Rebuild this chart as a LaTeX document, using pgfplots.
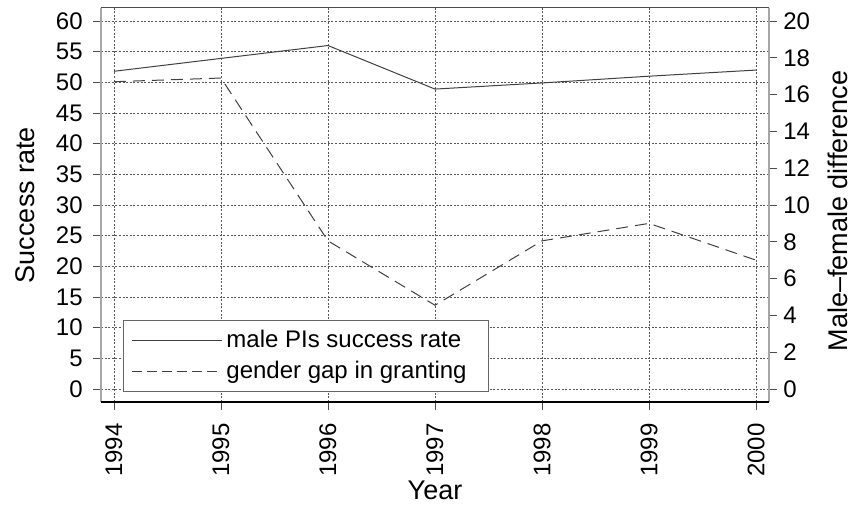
\documentclass[border=0pt]{standalone}
\usepackage{fontspec}
\setmainfont{Liberation Sans}
\usepackage{pgfplots}
\pgfplotsset{compat=1.18}

\pgfplotsset{
  common/.style={
    scale only axis, width=334pt, height=197pt,
    xmin=1993.879, xmax=2000.121,
    axis line style={draw=none},
    tick align=outside, major tick length=4pt,
    tick style={black!70, line width=0.4pt},
    /pgf/number format/assume math mode=true,
    /pgf/number format/1000 sep={},
    tick label style={font=\fontsize{12}{14}\selectfont},
  },
}

\begin{document}
\begin{tikzpicture}
\begin{axis}[common, name=ax1,
  ymin=-2.12, ymax=62.12,
  xtick={1994,1995,...,2000}, ytick={0,5,...,60},
  xtick pos=bottom, ytick pos=left,
  grid=major,
  grid style={black!65, line width=0.4pt, dash pattern=on 1pt off 0.8pt},
  xticklabel style={yshift=-6.5pt, rotate=90, anchor=east, inner sep=0pt},
  yticklabel style={anchor=east, inner sep=0pt, xshift=-5pt},
  xlabel={Year}, ylabel={Success rate},
  every axis x label/.style={at={(rel axis cs:0.5,0)}, anchor=base, yshift=-49pt,
                             font=\fontsize{13.5}{16}\selectfont},
  every axis y label/.style={at={(rel axis cs:0,0.5)}, xshift=-38pt, rotate=90, anchor=center,
                             font=\fontsize{13.5}{16}\selectfont},
  legend style={at={(0.033,0.025)}, anchor=south west, draw=black!60, line width=0.4pt,
                font=\fontsize{12}{14}\selectfont, inner xsep=4pt, inner ysep=3pt,
                row sep=1.5pt},
  legend cell align=left,
  legend image code/.code={\draw[#1] (0pt,0pt) -- (41pt,0pt); \path (0pt,0pt) -- (45pt,0pt);},
]
% male PIs success rate (left scale)
\addplot[black!75, line width=0.5pt] coordinates {
  (1994,51.8) (1995,53.9) (1996,56.0) (1997,48.9) (1998,49.9) (1999,51.0) (2000,52.0)
};
\addlegendentry{male PIs success rate}
\addlegendimage{black!75, line width=0.5pt, dash pattern=on 5pt off 2.5pt}
\addlegendentry{gender gap in granting\hspace*{5pt}}
\end{axis}

\begin{axis}[common,
  ymin=-0.707, ymax=20.707,
  xtick=\empty, ytick={0,2,...,20},
  ytick pos=right, yticklabel pos=right,
  yticklabel style={anchor=west, inner sep=0pt, xshift=3pt},
  ylabel={Male--female difference},
  every axis y label/.style={at={(rel axis cs:1,0.5)}, xshift=34.5pt, yshift=-3pt, rotate=90, anchor=center,
                             font=\fontsize{13.5}{16}\selectfont},
]
% gender gap (right scale)
\addplot[black!75, line width=0.5pt, dash pattern=on 6pt off 3.5pt] coordinates {
  (1994,16.7) (1995,16.9) (1996,8.05) (1997,4.55) (1998,8.05) (1999,9.0) (2000,7.0)
};
\end{axis}

% frame
\draw[black!35, line width=1pt] (ax1.south west) -- (ax1.north west);
\draw[black!35, line width=1pt] (ax1.south east) -- (ax1.north east);
\draw[black!70, line width=0.5pt] (ax1.north west) -- (ax1.north east);
\draw[black, line width=0.6pt] (ax1.south west) -- (ax1.south east);

\pgfresetboundingbox
\path (ax1.south west) ++(-50.5pt,-52pt) rectangle ++(428pt,253pt);
\end{tikzpicture}
\end{document}
